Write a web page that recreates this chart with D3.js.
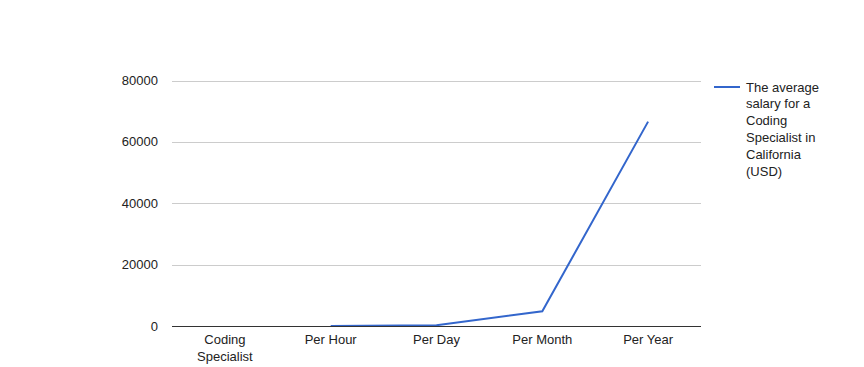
<!DOCTYPE html>
<html><head><meta charset="utf-8">
<script src="https://cdn.jsdelivr.net/npm/d3@7"></script>
<style>body{margin:0;background:#fff;}svg{display:block;font-family:"Liberation Sans",Arial,sans-serif;}</style>
</head><body>
<svg id="c" width="864" height="367"></svg>
<script>
const categories = ["Coding Specialist", "Per Hour", "Per Day", "Per Month", "Per Year"];
const categoryLabelLines = [["Coding", "Specialist"], ["Per Hour"], ["Per Day"], ["Per Month"], ["Per Year"]];
const values = [null, 32, 256, 4790, 66600];
const yTicks = [0, 20000, 40000, 60000, 80000];
const seriesName = "The average salary for a Coding Specialist in California (USD)";
const legendLines = ["The average", "salary for a", "Coding", "Specialist in", "California", "(USD)"];

(function() {
const svg = d3.select("#c");
const pl = 172, pr = 701, pt = 80.5, pb = 326;
const x = d3.scaleBand().domain(categories).range([pl, pr]);
const y = d3.scaleLinear().domain([0, 80000]).range([pb, pt]);

// gridlines
svg.append("g").selectAll("line").data(yTicks.filter(d => d !== 0)).join("line")
  .attr("x1", pl).attr("x2", pr)
  .attr("y1", d => Math.round(y(d)) + 0.5).attr("y2", d => Math.round(y(d)) + 0.5)
  .attr("stroke", "#cccccc").attr("stroke-width", 1);

// y labels
svg.append("g").selectAll("text").data(yTicks).join("text")
  .attr("x", 158).attr("y", d => y(d) + 4.5)
  .attr("text-anchor", "end").attr("font-size", 13).attr("fill", "#222")
  .text(d => d);

// line
const line = d3.line()
  .defined(d => d.v !== null)
  .x(d => x(d.c) + x.bandwidth() / 2)
  .y(d => y(d.v));
svg.append("path")
  .datum(categories.map((c, i) => ({c, v: values[i]})))
  .attr("d", line).attr("fill", "none")
  .attr("stroke", "#3366cc").attr("stroke-width", 2);

// baseline
svg.append("line").attr("x1", pl).attr("x2", pr)
  .attr("y1", pb + 0.5).attr("y2", pb + 0.5)
  .attr("stroke", "#333").attr("stroke-width", 1);

// x labels
const xl = svg.append("g").selectAll("text").data(categories).join("text")
  .attr("text-anchor", "middle").attr("font-size", 13).attr("fill", "#222")
  .attr("x", d => x(d) + x.bandwidth() / 2).attr("y", 344);
xl.each(function(d, k) {
  const t = d3.select(this);
  categoryLabelLines[k].forEach((w, i) => t.append("tspan").attr("x", x(d) + x.bandwidth() / 2).attr("dy", i === 0 ? 0 : 17).text(w));
});

// legend
const lg = svg.append("g");
lg.append("line").attr("x1", 714).attr("x2", 740).attr("y1", 87).attr("y2", 87)
  .attr("stroke", "#3366cc").attr("stroke-width", 2);
lg.append("text").attr("font-size", 13).attr("fill", "#222")
  .selectAll("tspan").data(legendLines).join("tspan")
  .attr("x", 746).attr("y", (d, i) => 91.5 + i * 16.8).text(d => d);
})();
</script>
</body></html>
